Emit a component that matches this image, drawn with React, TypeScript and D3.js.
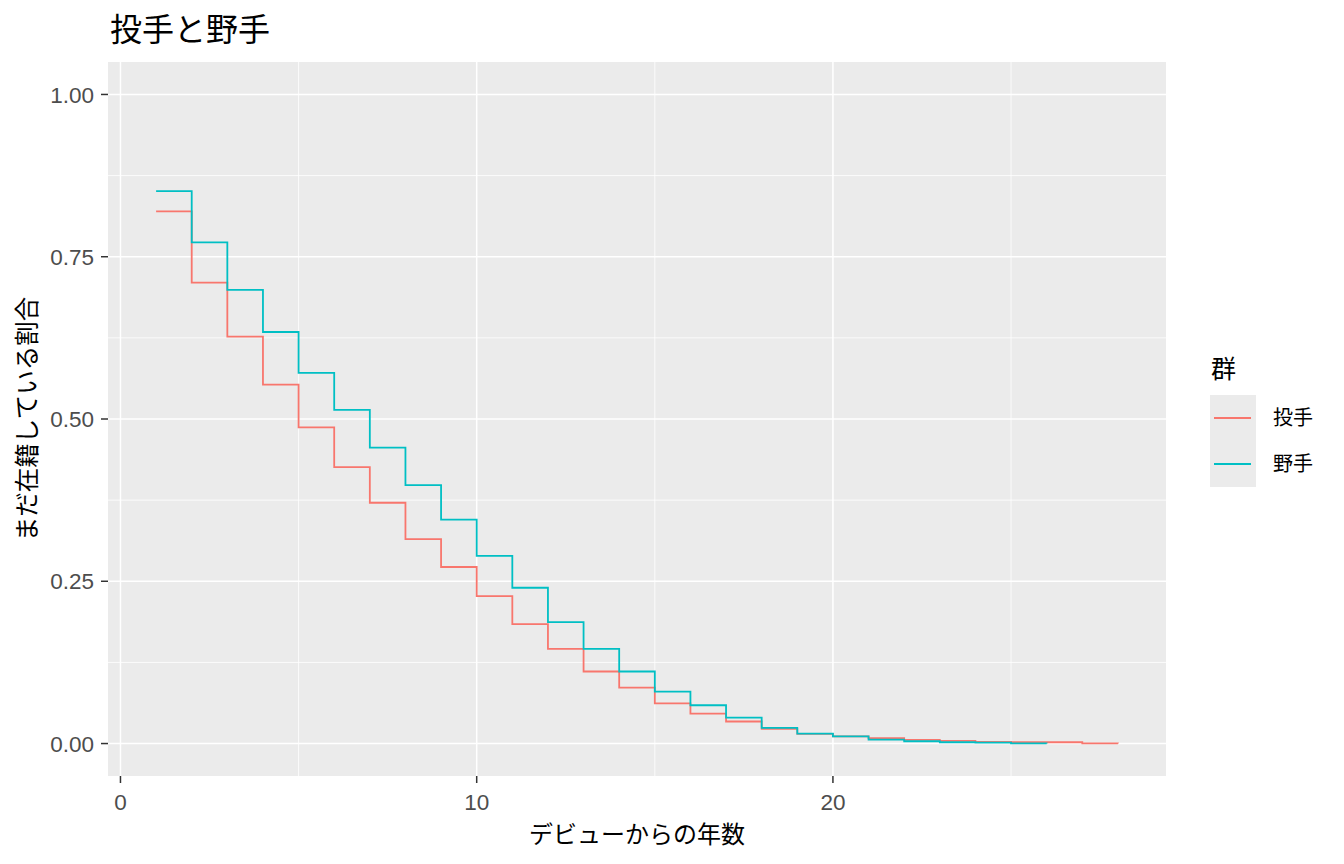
import React from 'react';
import * as d3 from 'd3';

// years since debut
const pitcherYears = [1, 2, 3, 4, 5, 6, 7, 8, 9, 10, 11, 12, 13, 14, 15, 16, 17, 18, 19, 20, 21, 22, 23, 24, 25, 26, 27, 28];
const pitcherShare = [0.820, 0.710, 0.627, 0.553, 0.487, 0.426, 0.371, 0.315, 0.272, 0.227, 0.184, 0.146, 0.111, 0.086, 0.062, 0.046, 0.034, 0.0225, 0.015, 0.011, 0.0082, 0.0056, 0.004, 0.0025, 0.002, 0.002, 0.0003, 0];

const fielderYears = [1, 2, 3, 4, 5, 6, 7, 8, 9, 10, 11, 12, 13, 14, 15, 16, 17, 18, 19, 20, 21, 22, 23, 24, 25, 26];
const fielderShare = [0.851, 0.772, 0.699, 0.634, 0.571, 0.514, 0.456, 0.398, 0.345, 0.289, 0.240, 0.187, 0.146, 0.111, 0.080, 0.059, 0.040, 0.024, 0.0154, 0.0112, 0.006, 0.0035, 0.002, 0.0015, 0.0003, 0];

const groups = ['投手', '野手'];
const groupColors = ['#F8766D', '#00BFC4'];

const xTicks = [0, 10, 20];
const xMinor = [5, 15, 25];
const yTicks = [0, 0.25, 0.5, 0.75, 1.0];
const yTickLabels = ['0.00', '0.25', '0.50', '0.75', '1.00'];
const yMinor = [0.125, 0.375, 0.625, 0.875];

const W = 1344;
const H = 864;
const panel = { left: 108, right: 1166, top: 62, bottom: 776 };
const latin = '"Liberation Sans", Arial, "Noto Sans CJK JP", sans-serif';

export default function App() {
  const x = d3.scaleLinear().domain([-0.35, 29.35]).range([panel.left, panel.right]);
  const y = d3.scaleLinear().domain([-0.05, 1.05]).range([panel.bottom, panel.top]);

  const line = d3.line<[number, number]>()
    .x(d => x(d[0]))
    .y(d => y(d[1]))
    .curve(d3.curveStepAfter);

  const series = [
    pitcherYears.map((yr, i) => [yr, pitcherShare[i]] as [number, number]),
    fielderYears.map((yr, i) => [yr, fielderShare[i]] as [number, number]),
  ];

  return (
    <svg width={W} height={H} style={{ position: 'absolute', left: 0, top: 0 }}>
      <rect width={W} height={H} fill="#FFFFFF" />

      {/* title */}
      <text x={110} y={41} fontFamily={latin} fontSize={32} fill="#000">投手と野手</text>

      {/* panel */}
      <rect x={panel.left} y={panel.top} width={panel.right - panel.left} height={panel.bottom - panel.top} fill="#EBEBEB" />
      {yMinor.map(v => (
        <line key={'ym' + v} x1={panel.left} x2={panel.right} y1={y(v)} y2={y(v)} stroke="#FFFFFF" strokeWidth={0.8} />
      ))}
      {xMinor.map(v => (
        <line key={'xm' + v} x1={x(v)} x2={x(v)} y1={panel.top} y2={panel.bottom} stroke="#FFFFFF" strokeWidth={0.8} />
      ))}
      {yTicks.map(v => (
        <line key={'yg' + v} x1={panel.left} x2={panel.right} y1={y(v)} y2={y(v)} stroke="#FFFFFF" strokeWidth={1.5} />
      ))}
      {xTicks.map(v => (
        <line key={'xg' + v} x1={x(v)} x2={x(v)} y1={panel.top} y2={panel.bottom} stroke="#FFFFFF" strokeWidth={1.5} />
      ))}

      {/* step lines */}
      {series.map((s, i) => (
        <path key={groups[i]} d={line(s) || ''} fill="none" stroke={groupColors[i]} strokeWidth={1.8} />
      ))}

      {/* y axis */}
      {yTicks.map((v, i) => (
        <g key={'yt' + v}>
          <line x1={panel.left - 7} x2={panel.left} y1={y(v)} y2={y(v)} stroke="#333333" strokeWidth={1.5} />
          <text x={panel.left - 14} y={y(v)} dy="0.36em" textAnchor="end" fontFamily={latin} fontSize={22.5} fill="#4D4D4D">
            {yTickLabels[i]}
          </text>
        </g>
      ))}

      {/* x axis */}
      {xTicks.map(v => (
        <g key={'xt' + v}>
          <line x1={x(v)} x2={x(v)} y1={panel.bottom} y2={panel.bottom + 7} stroke="#333333" strokeWidth={1.5} />
          <text x={x(v)} y={panel.bottom + 34} textAnchor="middle" fontFamily={latin} fontSize={22.5} fill="#4D4D4D">
            {v}
          </text>
        </g>
      ))}

      {/* axis titles */}
      <text x={(panel.left + panel.right) / 2} y={843} textAnchor="middle" fontFamily={latin} fontSize={24} fill="#000">
        デビューからの年数
      </text>
      <text
        transform={`translate(36, ${(panel.top + panel.bottom) / 2}) rotate(-90)`}
        textAnchor="middle"
        fontFamily={latin}
        fontSize={24.5}
        fill="#000"
      >
        まだ在籍している割合
      </text>

      {/* legend */}
      <text x={1211} y={378} fontFamily={latin} fontSize={25} fill="#000">群</text>
      <rect x={1210} y={395} width={46} height={92} fill="#EBEBEB" />
      {groups.map((g, i) => (
        <g key={'lg' + g}>
          <line x1={1214} x2={1251} y1={418 + i * 46} y2={418 + i * 46} stroke={groupColors[i]} strokeWidth={1.8} />
          <text x={1273} y={418 + i * 46} dy="0.36em" fontFamily={latin} fontSize={20} fill="#000">{g}</text>
        </g>
      ))}
    </svg>
  );
}
